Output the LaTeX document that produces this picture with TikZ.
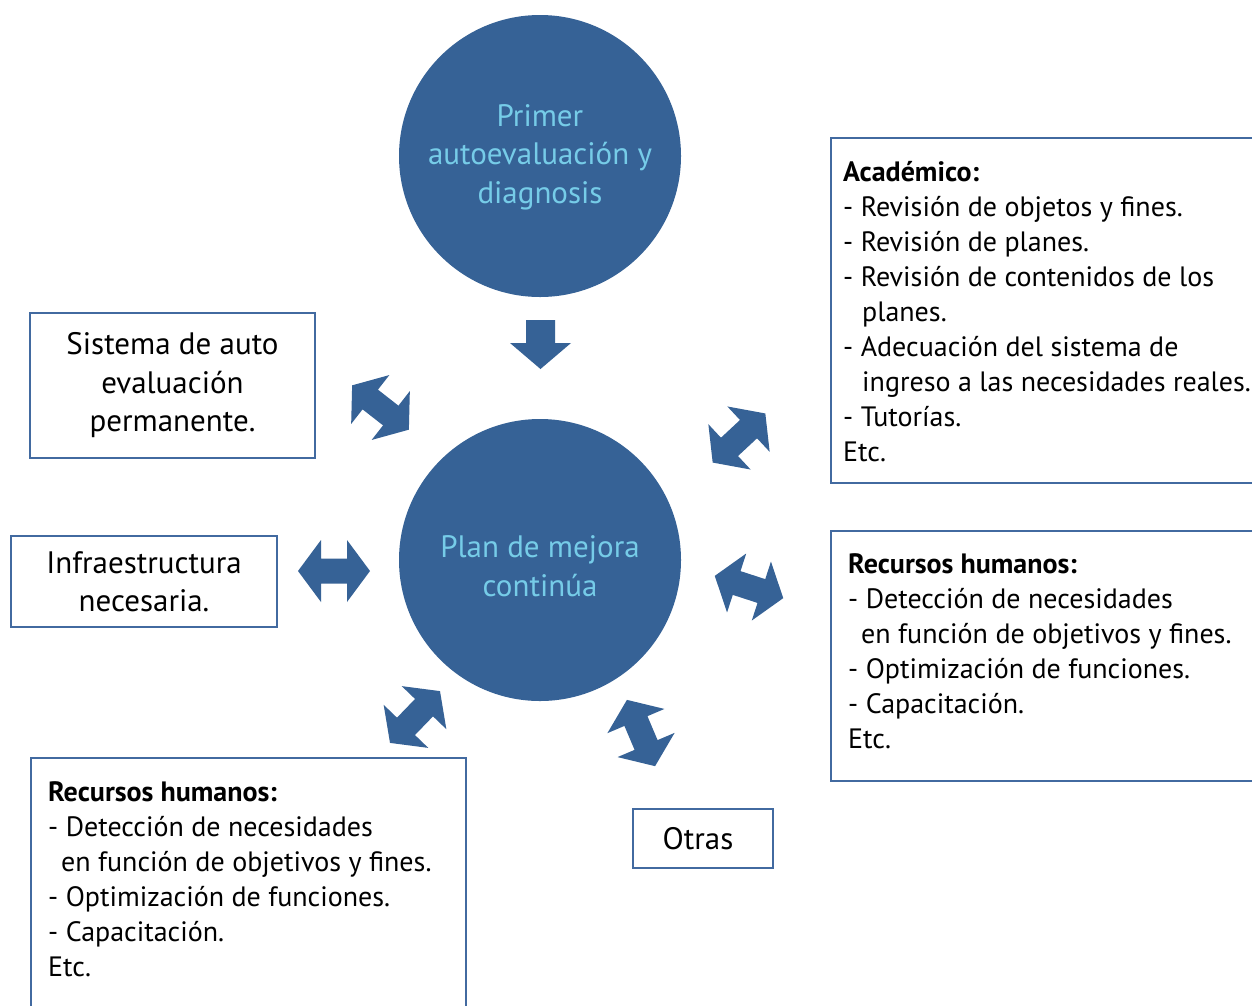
\documentclass[tikz,border=0pt]{standalone}
\usepackage{fontspec}
\setmainfont{PT Sans}
\usepackage{xcolor}
\usepackage{tikz}
\usetikzlibrary{positioning}
\definecolor{planblue}{RGB}{54,98,150}
\definecolor{frameblue}{RGB}{66,106,160}
\definecolor{bubbletext}{RGB}{118,204,232}
\tikzset{
  bubble/.style={circle, fill=planblue, minimum size=282pt, inner sep=0pt},
  bubblelabel/.style={text=bubbletext, align=center, inner sep=0pt,
    font=\fontsize{31}{38.5}\selectfont},
  framebox/.style={draw=frameblue, line width=2.2pt, rectangle, inner sep=0pt,
    align=center, font=\fontsize{31}{38.5}\selectfont},
  listtext/.style={anchor=north west, align=left, inner sep=0pt,
    font=\fontsize{28}{35}\selectfont},
  dblarrow/.pic={
    \fill[planblue] (-36,0) -- (-13,31) -- (-13,12.5) -- (13,12.5) -- (13,31)
      -- (36,0) -- (13,-31) -- (13,-12.5) -- (-13,-12.5) -- (-13,-31) -- cycle;
  }
}

\begin{document}
\begin{tikzpicture}[x=1pt, y=-1pt]
	\clip (0,0) rectangle (1252,1005);
	\fill[white] (0,0) rectangle (1252,1005);
	%
	\node[bubble] (autoeval) at (540,156) {};
	\node[bubblelabel] (autoevaltxt) at ([yshift=-1pt]autoeval.center) {Primer\\autoevaluación y\\diagnosis};
	\node[bubble] (plan) at (540,560) {};
	\node[bubblelabel] (plantxt) at ([yshift=-6pt]plan.center) {Plan de mejora\\continúa};
	\fill[planblue] (526,320) -- (555,320) -- (555,343) -- (571,343) -- (540.5,369)
		-- (510,343) -- (526,343) -- cycle;
	%
	\node[framebox, minimum width=285pt, minimum height=145pt] (sistema) at (172.5,385.5)
		{Sistema de auto\\evaluación\\permanente.};
	\node[framebox, minimum width=266pt, minimum height=91pt] (infra) at (144,581.5)
		{Infraestructura\\necesaria.};
	\node[framebox, minimum width=140pt, minimum height=59pt] (otras) at (703,838.5) {\hspace*{-10pt}Otras};
	%
	\node[framebox, anchor=north west, minimum width=440pt, minimum height=345pt] (academico) at (830,137) {};
	\node[listtext] (academicotxt) at (843,161.5) {\textbf{Académico:}\\
		- Revisión de objetos y fines.\\
		- Revisión de planes.\\
		- Revisión de contenidos de los\\
		\hspace*{19pt}planes.\\
		- Adecuación del sistema de\\
		\hspace*{19pt}ingreso a las necesidades reales.\\
		- Tutorías.\\
		Etc.};
	\node[framebox, anchor=north west, minimum width=440pt, minimum height=250pt] (rrhhright) at (830,530) {};
	\node[listtext] (rrhhrighttxt) at (848,553) {\textbf{Recursos humanos:}\\
		- Detección de necesidades\\
		\hspace*{13pt}en función de objetivos y fines.\\
		- Optimización de funciones.\\
		- Capacitación.\\
		Etc.};
	\node[framebox, anchor=north west, minimum width=435pt, minimum height=280pt] (rrhhleft) at (30,757) {};
	\node[listtext] (rrhhlefttxt) at (48,781) {\textbf{Recursos humanos:}\\
		- Detección de necesidades\\
		\hspace*{13pt}en función de objetivos y fines.\\
		- Optimización de funciones.\\
		- Capacitación.\\
		Etc.};
	%
	\pic[rotate=-38] (arrsistema) at (380.5,407.5) {dblarrow};
	\pic[rotate=43] (arracademico) at (739,438) {dblarrow};
	\pic (arrinfra) at (334,571) {dblarrow};
	\pic[rotate=-18] (arrrrhhright) at (749,587) {dblarrow};
	\pic[rotate=46] (arrrrhhleft) at (415,717) {dblarrow};
	\pic[rotate=-67] (arrotras) at (641,733) {dblarrow};
\end{tikzpicture}
\end{document}
